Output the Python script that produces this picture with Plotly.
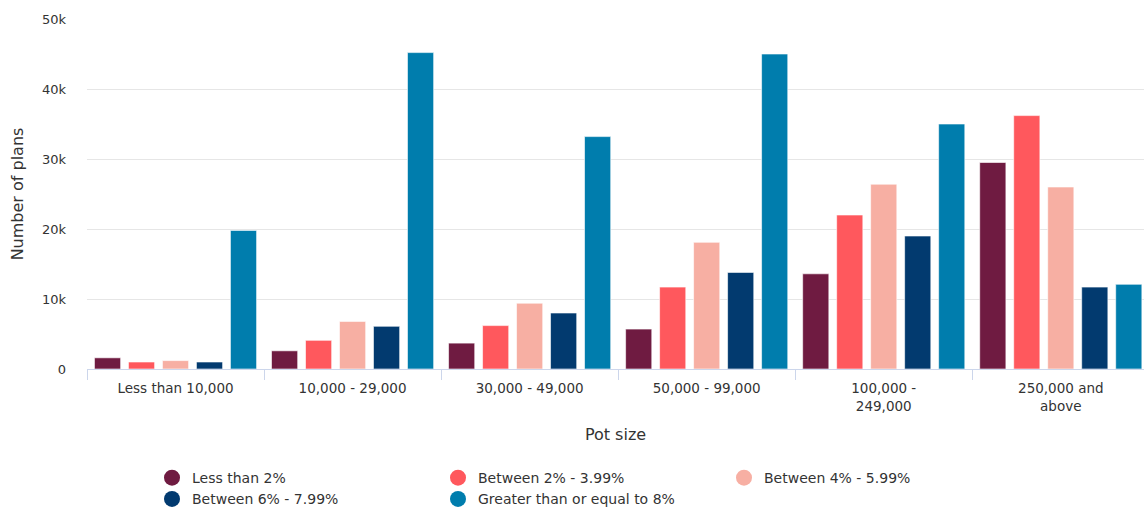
import plotly.graph_objects as go

categories = ["Less than 10,000", "10,000 - 29,000", "30,000 - 49,000", "50,000 - 99,000",
              "100,000 -<br>249,000", "250,000 and<br>above"]
series_names = ["Less than 2%", "Between 2% - 3.99%", "Between 4% - 5.99%",
                "Between 6% - 7.99%", "Greater than or equal to 8%"]
less_2 = [1600, 2600, 3700, 5700, 13600, 29500]
b2_399 = [1000, 4100, 6200, 11700, 22000, 36200]
b4_599 = [1200, 6800, 9400, 18100, 26400, 26000]
b6_799 = [1000, 6100, 8000, 13800, 19000, 11700]
ge_8 = [19800, 45200, 33200, 45000, 35000, 12100]
colors = ["#6F1B41", "#FF585D", "#F7AFA3", "#023A6F", "#007DAD"]

values = [less_2, b2_399, b4_599, b6_799, ge_8]
font_family = "DejaVu Sans, Verdana, sans-serif"

fig = go.Figure()
for name, vals, col in zip(series_names, values, colors):
    fig.add_trace(go.Bar(x=categories, y=vals, name=name, marker_color=col,
                         marker_line_color="rgba(255,255,255,0.6)", marker_line_width=1,
                         showlegend=False))
for name, col in zip(series_names, colors):
    fig.add_trace(go.Scatter(x=[None], y=[None], mode="markers", name=name,
                             marker=dict(color=col, size=16, symbol="circle")))

fig.update_layout(
    width=1144, height=507,
    margin=dict(l=87, r=0, t=19, b=138, autoexpand=False),
    paper_bgcolor="white", plot_bgcolor="white",
    font=dict(family=font_family, color="#333333", size=13),
    barmode="group", bargap=0.04, bargroupgap=0.23,
    legend=dict(orientation="h", x=0.0615, xanchor="left", y=-0.266, yanchor="top",
                entrywidth=241, entrywidthmode="pixels",
                font=dict(size=14, color="#333333"), itemwidth=30, tracegroupgap=0),
)
fig.update_xaxes(range=[-0.5, 5.47], showline=True, linecolor="#ccd6eb", linewidth=1,
                 ticks="outside", tickson="boundaries", ticklen=10, tickcolor="#ccd6eb",
                 tickfont=dict(size=13.5, color="#333333"), ticklabelstandoff=7,
                 title=dict(text="Pot size", font=dict(size=16, color="#333333"), standoff=16),
                 showgrid=False, fixedrange=True)
fig.update_yaxes(range=[0, 50000], tickvals=[0, 10000, 20000, 30000, 40000, 50000],
                 ticktext=["0", "10k", "20k", "30k", "40k", "50k"],
                 gridcolor="#e6e6e6", gridwidth=1, zeroline=False,
                 tickfont=dict(size=13, color="#333333"), ticklabelstandoff=20,
                 title=dict(text="Number of plans", font=dict(size=16, color="#333333"), standoff=14))

fig.write_html("out.html")
